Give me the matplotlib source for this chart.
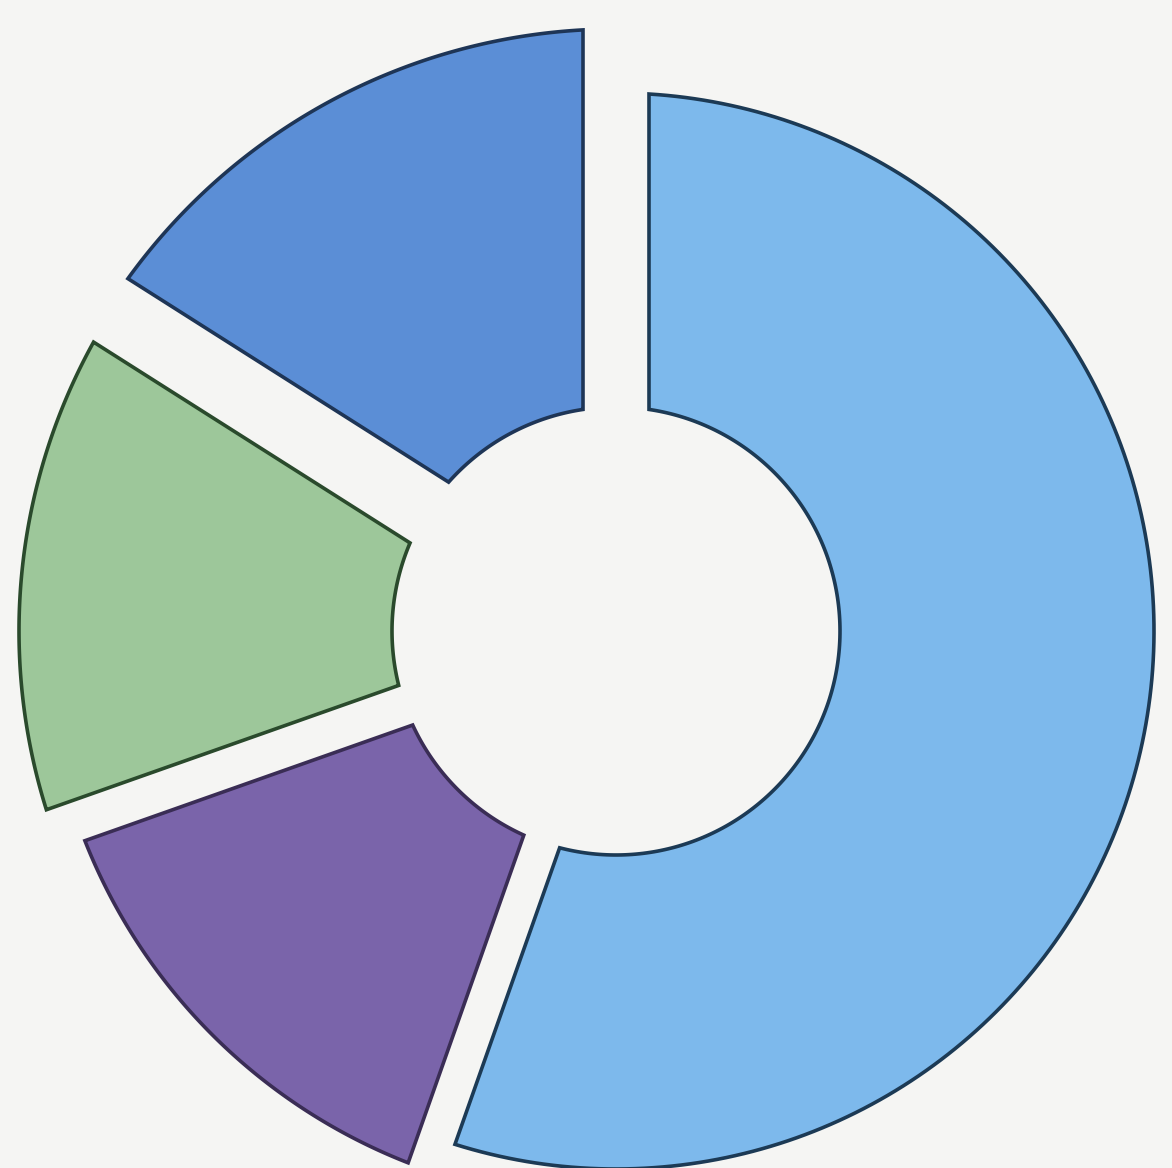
import numpy as np
import matplotlib.pyplot as plt

# Datos del gráfico de anillo (porcentajes y radio exterior de cada porción)
categorias = ['Azul', 'Verde', 'Morado', 'Celeste']
valores = [16, 14.4, 14.2, 55.4]
radios = [602, 597, 571, 538]
colores = ['#5b8ed6', '#9dc79a', '#7a64aa', '#7db9ec']
bordes = ['#1e3556', '#2a4a2c', '#3a2d55', '#1c3a55']

radio_interior = 224
# ancho del hueco blanco en cada frontera (arriba, azul/verde, verde/morado, morado/celeste)
huecos = [66, 72, 42, 38]

fig = plt.figure(figsize=(11.72, 11.68), dpi=100)
fig.patch.set_facecolor('#f5f5f3')
ax = fig.add_axes([0, 0, 1, 1])
ax.set_facecolor('#f5f5f3')

# Ángulos acumulados empezando arriba y girando en sentido antihorario
angulos = np.cumsum([0] + valores) / sum(valores) * 2 * np.pi + np.pi / 2

for i in range(len(valores)):
    a0, a1 = angulos[i], angulos[i + 1]
    d0 = huecos[i] / 2
    d1 = huecos[(i + 1) % len(huecos)] / 2
    R = radios[i]
    ext = np.linspace(a0 + np.arcsin(d0 / R), a1 - np.arcsin(d1 / R), 200)
    inte = np.linspace(a1 - np.arcsin(d1 / radio_interior), a0 + np.arcsin(d0 / radio_interior), 200)
    x = np.concatenate([R * np.cos(ext), radio_interior * np.cos(inte)])
    y = np.concatenate([R * np.sin(ext), radio_interior * np.sin(inte)])
    ax.fill(x, y, facecolor=colores[i], edgecolor=bordes[i], linewidth=2.6, joinstyle='miter')

# Centro del anillo en la imagen: (616, 631)
ax.set_xlim(-616, 1172 - 616)
ax.set_ylim(-(1168 - 631), 631)
ax.set_aspect('equal')
ax.axis('off')

fig.savefig('out.png', dpi=100, facecolor=fig.get_facecolor())
